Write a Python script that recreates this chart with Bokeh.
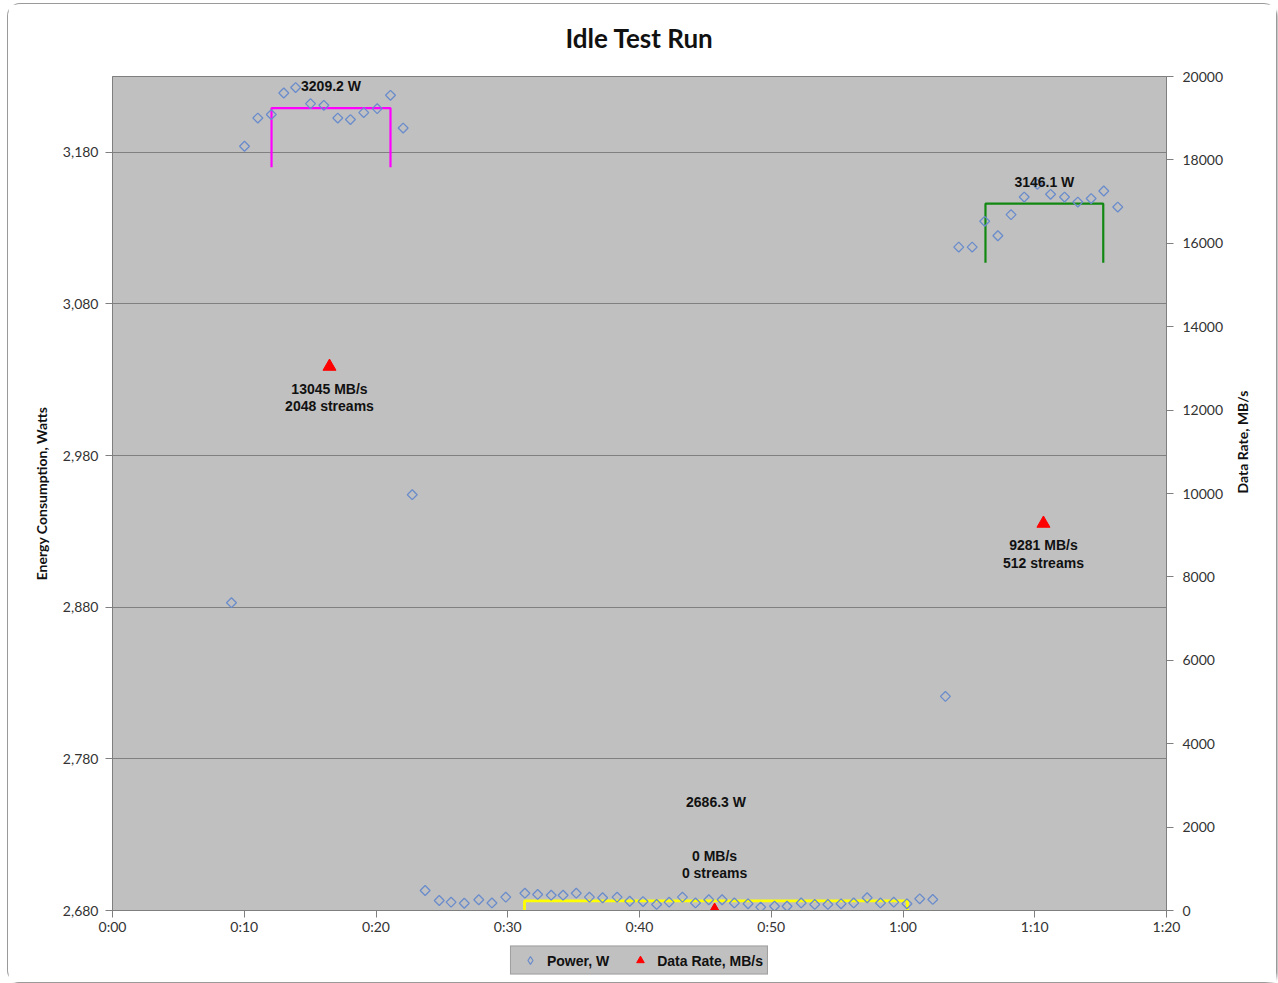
from bokeh.plotting import figure
from bokeh.layouts import column
from bokeh.models import (ColumnDataSource, Range1d, LinearAxis, FixedTicker,
                          NumeralTickFormatter, Legend, LegendItem)
from bokeh.core.properties import value
from bokeh.embed import file_html
from bokeh.resources import INLINE

# ---------------- data ----------------
power_time = [9.03, 10.02, 11.03, 12.05, 13.0, 13.9, 15.03, 16.04, 17.1, 18.06,
              19.07, 20.09, 21.1, 22.06, 22.75, 23.73, 24.8, 25.7, 26.7, 27.8,
              28.8, 29.85, 31.3, 32.27, 33.3, 34.2, 35.2, 36.2, 37.2, 38.3,
              39.26, 40.27, 41.3, 42.25, 43.26, 44.25, 45.26, 46.27, 47.2, 48.24,
              49.2, 50.25, 51.2, 52.27, 53.3, 54.3, 55.3, 56.26, 57.28, 58.29,
              59.3, 60.3, 61.27, 62.26, 63.22, 64.23, 65.25, 66.2, 67.2, 68.2,
              69.2, 70.2, 71.2, 72.26, 73.27, 74.28, 75.24, 76.3]
power_watts = [2883.0, 3184.0, 3202.6, 3204.9, 3219.1, 3222.7, 3212.1, 3211.0, 3202.6, 3201.6,
               3206.2, 3208.8, 3217.6, 3196.0, 2954.2, 2693.2, 2686.6, 2685.5, 2684.8, 2687.1,
               2685.0, 2688.8, 2691.4, 2690.6, 2690.1, 2690.1, 2691.4, 2688.8, 2688.4, 2688.8,
               2686.1, 2685.9, 2684.0, 2685.5, 2688.8, 2685.0, 2687.1, 2687.1, 2685.0, 2684.4,
               2682.2, 2682.8, 2682.8, 2685.0, 2684.0, 2684.0, 2684.4, 2685.0, 2688.4, 2685.0,
               2685.5, 2684.4, 2687.7, 2687.3, 2821.2, 3117.5, 3117.5, 3134.5, 3125.0, 3138.9,
               3150.5, 3158.9, 3152.3, 3150.5, 3147.2, 3149.5, 3154.5, 3143.9]

rate_time = [16.47, 45.7, 70.66]
rate_mbs = [13045, 0, 9281]
rate_streams = [2048, 0, 512]

bracket_start = [12.07, 31.27, 66.26]
bracket_end = [21.1, 60.34, 75.2]
bracket_avg = [3209.2, 2686.3, 3146.1]

x_ticks = [0, 10, 20, 30, 40, 50, 60, 70, 80]
x_tick_labels = ["0:00", "0:10", "0:20", "0:30", "0:40", "0:50", "1:00", "1:10", "1:20"]
y_ticks = [2680, 2780, 2880, 2980, 3080, 3180]
rate_ticks = [0, 2000, 4000, 6000, 8000, 10000, 12000, 14000, 16000, 18000, 20000]
legend_labels = ["Power, W", "Data Rate, MB/s"]
chart_title = "Idle Test Run"

# ---------------- styles ----------------
bracket_colors = ["#FF00FF", "#FFFF00", "#118811"]
bracket_widths = [2.2, 2.8, 2.2]
bracket_drop = 39.0
avg_label_dy = [-22, -99, -22]
rate_label_dy = [14, -63, 14]
POWER_COLOR = "#6A8CCB"
RATE_COLOR = "#FF0000"
TICK_FONT = "Lato"
LABEL_FONT = "Liberation Sans"
FIG_W = 1268
TITLE_H = 60
LEGEND_H = 44


def strip(height):
    f = figure(width=FIG_W, height=height, output_backend="svg", toolbar_location=None,
               x_range=Range1d(0, 1), y_range=Range1d(0, height),
               x_axis_location=None, y_axis_location=None,
               min_border_left=0, min_border_right=0, min_border_top=0,
               min_border_bottom=0)
    f.grid.grid_line_color = None
    f.outline_line_color = None
    f.background_fill_color = "white"
    f.border_fill_color = "white"
    return f


# ---------------- title strip ----------------
tf = strip(TITLE_H)
tsrc = ColumnDataSource(dict(x=[0.5], y=[TITLE_H - 33], t=[chart_title]))
tf.text("x", "y", text="t", source=tsrc, text_align="center", text_baseline="middle",
        text_font=value("Lato"), text_font_size="26px", text_font_style="bold",
        text_color="#111111")

# ---------------- main chart ----------------
p = figure(width=FIG_W, height=874, output_backend="svg", toolbar_location=None,
           x_range=Range1d(0, 80), y_range=Range1d(2680, 3230),
           min_border_left=104, min_border_right=110, min_border_top=12,
           min_border_bottom=28)

p.background_fill_color = "#C0C0C0"
p.border_fill_color = "white"
p.outline_line_color = "#7f7f7f"
p.outline_line_width = 1

p.extra_y_ranges = {"rate": Range1d(0, 20000)}

xa = p.xaxis[0]
xa.ticker = FixedTicker(ticks=x_ticks)
xa.major_label_overrides = {t: l for t, l in zip(x_ticks, x_tick_labels)}

ya = p.yaxis[0]
ya.ticker = FixedTicker(ticks=y_ticks)
ya.formatter = NumeralTickFormatter(format="0,0")
ya.axis_label = "Energy Consumption, Watts"

ra = LinearAxis(y_range_name="rate", ticker=FixedTicker(ticks=rate_ticks),
                axis_label="Data Rate, MB/s")
p.add_layout(ra, "right")

for ax in [xa, ya, ra]:
    ax.major_tick_in = 0
    ax.major_tick_out = 7
    ax.minor_tick_line_color = None
    ax.axis_line_color = "#7f7f7f"
    ax.major_tick_line_color = "#7f7f7f"
    ax.major_label_text_font = TICK_FONT
    ax.major_label_text_font_size = "14px"
    ax.major_label_text_color = "#333333"
    ax.axis_label_text_font = TICK_FONT
    ax.axis_label_text_font_size = "14px"
    ax.axis_label_text_font_style = "bold"
    ax.axis_label_text_color = "#111111"
ya.major_label_standoff = 7
ra.major_label_standoff = 9
xa.major_label_standoff = 0
ya.axis_label_standoff = 10
ra.axis_label_standoff = 16
ra.axis_label_orientation = 1.5708

p.xgrid.grid_line_color = None
p.ygrid.grid_line_color = "#808080"
p.ygrid.grid_line_width = 1

# brackets
bx, by = [], []
for s, e, a in zip(bracket_start, bracket_end, bracket_avg):
    bx.append([s, s, e, e])
    by.append([a - bracket_drop, a, a, a - bracket_drop])
bsrc = ColumnDataSource(dict(xs=bx, ys=by, color=bracket_colors, w=bracket_widths))
p.multi_line("xs", "ys", source=bsrc, line_color="color", line_width="w")

# power points
psrc = ColumnDataSource(dict(t=power_time, w=power_watts))
p.scatter("t", "w", source=psrc, marker="square", angle=0.7854, size=7,
          fill_color=None, line_color=POWER_COLOR, line_width=1.3)

# data-rate points
rsrc = ColumnDataSource(dict(t=rate_time, v=rate_mbs))
p.scatter("t", "v", source=rsrc, y_range_name="rate", marker="triangle",
          size=13, fill_color=RATE_COLOR, line_color=RATE_COLOR)

# average labels
asrc = ColumnDataSource(dict(
    x=[(s + e) / 2 for s, e in zip(bracket_start, bracket_end)],
    y=bracket_avg,
    txt=[f"{a} W" for a in bracket_avg],
    dy=avg_label_dy))
p.text("x", "y", text="txt", source=asrc, y_offset="dy", text_align="center",
       text_baseline="middle", text_font=value(LABEL_FONT), text_font_size="14px",
       text_font_style="bold", text_color="#111111")

# rate labels
lsrc = ColumnDataSource(dict(
    x=rate_time, y=rate_mbs,
    txt=[f"{v} MB/s\n{s} streams" for v, s in zip(rate_mbs, rate_streams)],
    dy=rate_label_dy))
p.text("x", "y", text="txt", source=lsrc, y_range_name="rate", y_offset="dy",
       text_align="center", text_baseline="top", text_line_height=1.1,
       text_font=value(LABEL_FONT), text_font_size="14px", text_font_style="bold",
       text_color="#111111")

# ---------------- legend strip ----------------
lf = strip(LEGEND_H)
offscreen = ColumnDataSource(dict(x=[-5], y=[-500]))
g1 = lf.scatter("x", "y", source=offscreen, marker="diamond",
                fill_color=None, line_color=POWER_COLOR, line_width=1.2)
g2 = lf.scatter("x", "y", source=offscreen, marker="triangle", fill_color=RATE_COLOR,
                line_color=RATE_COLOR)
legend = Legend(items=[LegendItem(label=legend_labels[0], renderers=[g1]),
                       LegendItem(label=legend_labels[1], renderers=[g2])],
                orientation="horizontal", location="center",
                background_fill_color="#C0C0C0", background_fill_alpha=1.0,
                border_line_color="#7f7f7f", label_text_font=LABEL_FONT,
                label_text_font_size="14px", label_text_font_style="bold",
                label_text_color="#111111", glyph_width=30, glyph_height=19,
                label_height=19, label_standoff=2, spacing=16, padding=4, margin=0)
lf.add_layout(legend, "center")

layout = column(tf, p, lf, spacing=0)
layout.styles = {"margin-left": "8px", "margin-top": "4px", "border-radius": "12px",
                 "box-shadow": "0 0 0 1px #9a9a9a, 2px 2px 3px rgba(0,0,0,0.35)"}

open("out.html", "w").write(file_html(layout, INLINE))
